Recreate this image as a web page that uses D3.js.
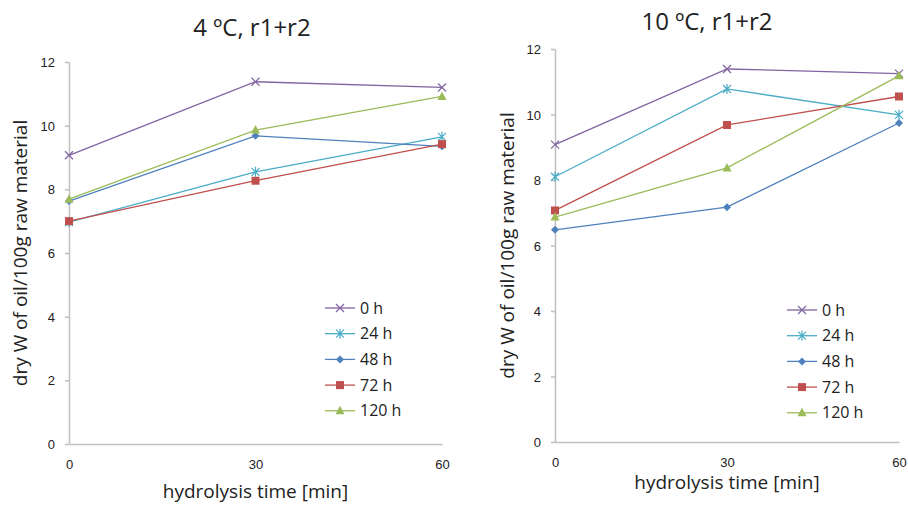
<!DOCTYPE html>
<html>
  <head>
    <style>
      body {
        margin: 0;
        background: #fff;
      }
      svg {
        display: block;
        font-family: "Open Sans", "DejaVu Sans", sans-serif;
      }
      .axis path, .axis line {
        stroke: #bfbfbf;
        stroke-width: 1.5px;
      }
      .axis text {
        fill: #222;
        font-size: 13px;
      }
    </style>
  </head>
  <body>
    <script src="https://d3js.org/d3.v7.min.js"></script>
    <script>
      const width = 908, height = 505;

      const times = [0, 30, 60];
      const series = ["0 h", "24 h", "48 h", "72 h", "120 h"];
      const colors = ["#8064a2", "#4bacc6", "#4f81bd", "#c0504d", "#9bbb59"];
      const symbols = ["x", "star", "diamond", "square", "triangle"];
      const yTicks = [0, 2, 4, 6, 8, 10, 12];

      // 4 ºC panel
      const cold0h = [9.07, 11.38, 11.2];
      const cold24h = [6.97, 8.55, 9.65];
      const cold48h = [7.63, 9.68, 9.35];
      const cold72h = [7.0, 8.27, 9.42];
      const cold120h = [7.69, 9.86, 10.92];

      // 10 ºC panel
      const warm0h = [9.08, 11.39, 11.25];
      const warm24h = [8.1, 10.78, 9.99];
      const warm48h = [6.48, 7.17, 9.74];
      const warm72h = [7.07, 9.68, 10.55];
      const warm120h = [6.87, 8.37, 11.18];

      const panels = [
        {title: "4 ºC, r1+r2", data: [cold0h, cold24h, cold48h, cold72h, cold120h],
         x0: 69, x1: 442, y0: 444, y1: 62, titleX: 252, titleY: 36,
         yTitleX: 27, xTitleY: 498, legX: 325, legY: 308},
        {title: "10 ºC, r1+r2", data: [warm0h, warm24h, warm48h, warm72h, warm120h],
         x0: 555, x1: 899, y0: 442, y1: 49, titleX: 707, titleY: 30,
         yTitleX: 514, xTitleY: 489, legX: 787, legY: 310}
      ];

      const svg = d3.select("body").append("svg")
          .attr("width", width)
          .attr("height", height);

      function marker(g, type, color) {
        if (type === "x") {
          g.append("path").attr("d", "M-4,-4L4,4M-4,4L4,-4")
              .attr("stroke", color).attr("stroke-width", 1.2).attr("fill", "none");
        } else if (type === "star") {
          g.append("path").attr("d", "M-4,-4L4,4M-4,4L4,-4M0,-5L0,5")
              .attr("stroke", color).attr("stroke-width", 1.2).attr("fill", "none");
        } else if (type === "diamond") {
          g.append("path").attr("d", "M0,-4L4,0L0,4L-4,0Z").attr("fill", color);
        } else if (type === "square") {
          g.append("rect").attr("x", -4).attr("y", -4).attr("width", 8).attr("height", 8)
              .attr("fill", color);
        } else {
          g.append("path").attr("d", "M0,-5L4.5,3.5L-4.5,3.5Z").attr("fill", color);
        }
      }

      panels.forEach(p => {
        const x = d3.scaleLinear().domain([0, 60]).range([p.x0, p.x1]);
        const y = d3.scaleLinear().domain([0, 12]).range([p.y0, p.y1]);
        const g = svg.append("g");

        g.append("g")
            .attr("class", "axis")
            .attr("transform", `translate(${p.x0},0)`)
            .call(d3.axisLeft(y).tickValues(yTicks).tickSize(4).tickSizeOuter(0).tickPadding(10))
          .selectAll("text")
            .attr("dy", "0.35em");

        g.append("g")
            .attr("class", "axis")
            .attr("transform", `translate(0,${p.y0})`)
            .call(d3.axisBottom(x).tickValues(times).tickSize(0).tickPadding(16));

        g.append("text")
            .attr("x", p.titleX)
            .attr("y", p.titleY)
            .attr("text-anchor", "middle")
            .attr("font-size", 24)
            .attr("fill", "#222")
            .text(p.title);

        g.append("text")
            .attr("transform", `translate(${p.yTitleX},${(p.y0 + p.y1) / 2}) rotate(-90)`)
            .attr("text-anchor", "middle")
            .attr("font-size", 19)
            .attr("fill", "#222")
            .text("dry W of oil/100g raw material");

        g.append("text")
            .attr("x", (p.x0 + p.x1) / 2)
            .attr("y", p.xTitleY)
            .attr("text-anchor", "middle")
            .attr("font-size", 19)
            .attr("fill", "#222")
            .text("hydrolysis time [min]");

        const line = d3.line()
            .x((d, i) => x(times[i]))
            .y(d => y(d));

        p.data.forEach((vals, k) => {
          g.append("path")
              .datum(vals)
              .attr("d", line)
              .attr("fill", "none")
              .attr("stroke", colors[k])
              .attr("stroke-width", 1.3);
          vals.forEach((v, i) => {
            marker(g.append("g").attr("transform", `translate(${x(times[i])},${y(v)})`),
                symbols[k], colors[k]);
          });
        });

        const leg = g.append("g").attr("transform", `translate(${p.legX},${p.legY})`);
        series.forEach((s, k) => {
          const row = leg.append("g").attr("transform", `translate(0,${k * 25.7})`);
          row.append("line").attr("x1", 0).attr("x2", 30)
              .attr("stroke", colors[k]).attr("stroke-width", 1.3);
          marker(row.append("g").attr("transform", "translate(15,0)"), symbols[k], colors[k]);
          row.append("text")
              .attr("x", 35)
              .attr("dy", "0.35em")
              .attr("font-size", 16)
              .attr("fill", "#222")
              .text(s);
        });
      });
    </script>
  </body>
</html>
